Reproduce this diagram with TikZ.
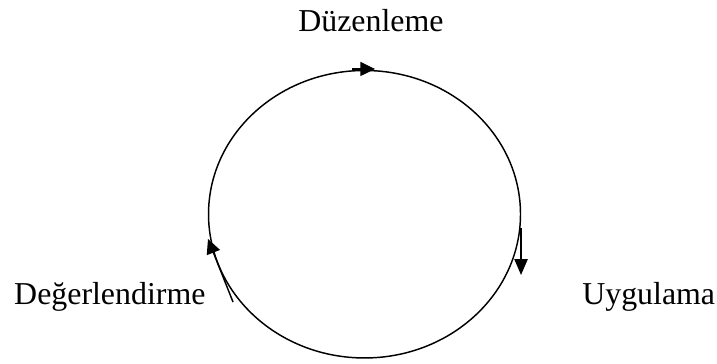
\documentclass[tikz,border=0pt]{standalone}
\usepackage{fontspec}
\setmainfont{Liberation Serif}
\usetikzlibrary{arrows.meta}

\tikzset{
    label/.style={inner sep=0pt, anchor=base west, font=\fontsize{24}{29}\selectfont},
    cycarrow/.style={line width=1.1pt, -{Triangle[length=11pt, width=10.5pt]}}
}

\begin{document}
\begin{tikzpicture}
            \useasboundingbox (0,0) rectangle (18.97,9.604);

            % Cycle
            \draw[line width=1.1pt] (9.644,3.936) ellipse (4.127cm and 3.803cm);

            % Arrow ends
            \coordinate (topA) at (9.313,7.779);
            \coordinate (topB) at (9.922,7.779);
            \coordinate (rightA) at (13.785,3.572);
            \coordinate (rightB) at (13.785,2.328);
            \coordinate (leftA) at (6.165,1.614);
            \coordinate (leftB) at (5.503,3.281);
            \draw[cycarrow] (topA) -- (topB);
            \draw[cycarrow, -{Triangle[length=12pt, width=10pt]}] (rightA) -- (rightB);
            \draw[cycarrow] (leftA) -- (leftB);

            % Labels
            \node[label] (duzen) at (7.885,8.758) {Düzenleme};
            \node[label] (uygula) at (15.399,1.535) {Uygulama};
            \node[label] (deger) at (0.370,1.535) {Değerlendirme};
        \end{tikzpicture}
\end{document}
